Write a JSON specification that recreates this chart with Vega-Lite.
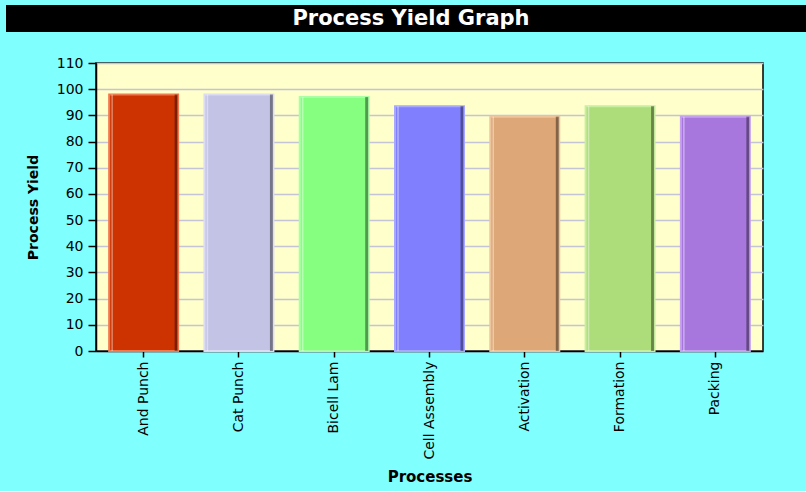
{
  "$schema": "https://vega.github.io/schema/vega-lite/v6.json",
  "background": "#80FFFF",
  "padding": {"left": 6, "top": 5, "right": 0, "bottom": 6},
  "bounds": "flush",
  "spacing": 31,
  "config": {
    "font": "DejaVu Sans",
    "axis": {
      "labelFont": "DejaVu Sans",
      "labelColor": "#000000",
      "titleFont": "DejaVu Sans",
      "titleColor": "#000000",
      "domainColor": "#000000",
      "domainWidth": 1.5,
      "tickColor": "#000000",
      "tickWidth": 1.5
    }
  },
  "vconcat": [
    {
      "width": 800,
      "height": 27,
      "view": {"fill": "#000000", "stroke": null},
      "data": {"values": [{"heading": "Process Yield Graph"}]},
      "mark": {
        "type": "text",
        "font": "DejaVu Sans",
        "fontWeight": "bold",
        "fontSize": 21,
        "color": "#FFFFFF",
        "baseline": "middle",
        "dx": 5
      },
      "encoding": {"text": {"field": "heading", "type": "nominal"}}
    },
    {
      "bounds": "flush",
      "spacing": 0,
      "hconcat": [
        {
          "width": 90,
          "height": 288,
          "view": {"fill": null, "stroke": null},
          "data": {"values": []},
          "mark": "point"
        },
        {
          "width": 667,
          "height": 288,
          "view": {"fill": "#FFFFCC", "stroke": "#000000", "strokeWidth": 1.5},
          "data": {
            "values": [
              {"process": "And Punch", "yield": 98},
              {"process": "Cat Punch", "yield": 98},
              {"process": "Bicell Lam", "yield": 97},
              {"process": "Cell Assembly", "yield": 93.5},
              {"process": "Activation", "yield": 89.5},
              {"process": "Formation", "yield": 93.5},
              {"process": "Packing", "yield": 89.5}
            ]
          },
          "encoding": {
            "x": {
              "field": "process",
              "type": "nominal",
              "sort": null,
              "scale": {"paddingInner": 0.276, "paddingOuter": 0.138},
              "axis": {
                "title": "Processes",
                "titleFontSize": 15,
                "titleFontWeight": "bold",
                "titlePadding": 10,
                "labelAngle": -90,
                "labelFontSize": 14,
                "labelPadding": 4,
                "tickSize": 6,
                "grid": false
              }
            },
            "y": {
              "field": "yield",
              "type": "quantitative",
              "scale": {"domain": [0, 110], "nice": false},
              "axis": {
                "title": "Process Yield",
                "titleFontSize": 14,
                "titleFontWeight": "bold",
                "titleBaseline": "bottom",
                "titlePadding": 16,
                "values": [0, 10, 20, 30, 40, 50, 60, 70, 80, 90, 100, 110],
                "labelFontSize": 14,
                "labelPadding": 5,
                "tickSize": 8,
                "grid": true,
                "gridColor": "#C4C4D6",
                "gridWidth": 1.5
              }
            }
          },
          "layer": [
            {
              "mark": {"type": "bar", "strokeWidth": 2},
              "encoding": {
                "fill": {
                  "field": "process",
                  "type": "nominal",
                  "scale": {
                    "domain": ["And Punch", "Cat Punch", "Bicell Lam", "Cell Assembly", "Activation", "Formation", "Packing"],
                    "range": ["#CC3300", "#C3C3E5", "#86FF80", "#8080FF", "#DDA777", "#ADDD7A", "#A877DD"]
                  },
                  "legend": null
                },
                "stroke": {
                  "field": "process",
                  "type": "nominal",
                  "scale": {
                    "domain": ["And Punch", "Cat Punch", "Bicell Lam", "Cell Assembly", "Activation", "Formation", "Packing"],
                    "range": ["#F07A50", "#DCDCF2", "#AAFFA6", "#A8A8FF", "#EEC49C", "#C8EEA0", "#C6A2EE"]
                  },
                  "legend": null
                }
              }
            },
            {
              "mark": {"type": "bar", "width": 3, "xOffset": 32.5, "color": "#000000", "opacity": 0.4}
            },
            {
              "mark": {"type": "bar", "width": 1.5, "xOffset": -31.5, "color": "#FFFFFF", "opacity": 0.4}
            }
          ]
        }
      ]
    }
  ]
}
